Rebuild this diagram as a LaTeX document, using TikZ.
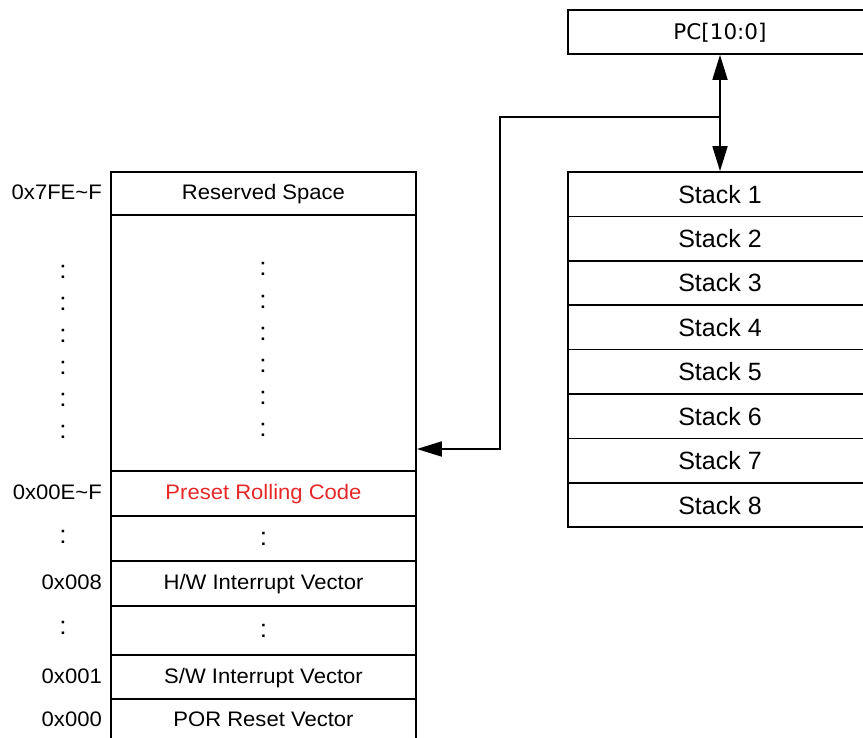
\documentclass[tikz,border=0pt]{standalone}
\usepackage{fontspec}
\setmainfont{Liberation Sans}
\newfontfamily\memfont[FakeStretch=1.05]{Liberation Sans}
\newfontfamily\pcfont{DejaVu Sans}
\usepackage{xcolor}
\definecolor{rollred}{RGB}{230,40,40}
\usepackage{tikz}
\usetikzlibrary{arrows.meta,positioning}

\begin{document}
\begin{tikzpicture}[
  x=1pt,y=-1pt,
  >={Triangle[length=25pt,width=15pt]},
  every node/.style={font=\memfont\fontsize{21}{25}\selectfont},
  membox/.style={draw,line width=1.7pt,minimum width=305pt,inner sep=0pt,
                 text height=15.5pt,text depth=3pt},
  stkbox/.style={draw,line width=1.7pt,minimum width=304pt,minimum height=44.4pt,
                 inner sep=0pt,text height=18pt,text depth=0pt,
                 font=\fontsize{25}{30}\selectfont},
  addr/.style={anchor=east,inner sep=0pt,text height=15.5pt,text depth=3pt},
  dotcol/.style={inner sep=0pt,text height=13pt,text depth=0pt,
                 font=\memfont\fontsize{25}{30}\selectfont},
  link/.style={line width=1.8pt},
]
  \useasboundingbox (0,0) rectangle (863,738);

  % Program memory
  \node[membox,minimum height=43pt] (rsv) at (263.5,193.5) {Reserved Space};
  \node[membox,minimum height=256pt] (blank) at (263.5,343) {};
  \node[membox,minimum height=45pt,text=rollred] (prc) at (263.5,493.5)
    {Preset Rolling Code};
  \node[membox,minimum height=45pt] (gap1) at (263.5,538.5) {};
  \node[membox,minimum height=45pt] (hwv) at (263.5,583.5) {H/W Interrupt Vector};
  \node[membox,minimum height=49pt] (gap2) at (263.5,630.5) {};
  \node[membox,minimum height=44pt] (swv) at (263.5,677) {S/W Interrupt Vector};
  \node[membox,minimum height=42pt] (por) at (263.5,720) {POR Reset Vector};

  % Dots inside the memory
  \foreach \y in {269,302,334,366,398,430}
    \node[dotcol] (mdot\y) at (263,\y) {:};
  \node[dotcol] (mdota) at (gap1) {:};
  \node[dotcol] (mdotb) at (gap2) {:};

  % Addresses
  \node[addr] (a7fe) at (102,193.5) {0x7FE\textasciitilde F};
  \foreach \y in {272,304,336,368,400,432}
    \node[dotcol] (ldot\y) at (63,\y) {:};
  \node[addr] (a00e) at (102,493.5) {0x00E\textasciitilde F};
  \node[dotcol] (ldota) at (63,537) {:};
  \node[addr] (a008) at (102,583.5) {0x008};
  \node[dotcol] (ldotb) at (63,628) {:};
  \node[addr] (a001) at (102,677) {0x001};
  \node[addr] (a000) at (102,720) {0x000};

  % Program counter
  \node[draw,line width=1.7pt,minimum width=304pt,minimum height=44pt,inner sep=0pt,
        text height=15.5pt,text depth=0pt,font=\pcfont\fontsize{21.5}{26}\selectfont]
    (pc) at (720,32) {PC[10:0]};

  % Stack
  \foreach \i in {1,...,8}
    \node[stkbox] (stk\i) at (720,{194.2+(\i-1)*44.4}) {Stack \i};

  % Arrows
  \coordinate (jn) at (720,117);
  \coordinate (bend) at (500,449);
  \draw[link,<->] (pc) -- (stk1);
  \draw[link,->] (jn) -| (bend) -- (blank.east |- bend);
\end{tikzpicture}
\end{document}
